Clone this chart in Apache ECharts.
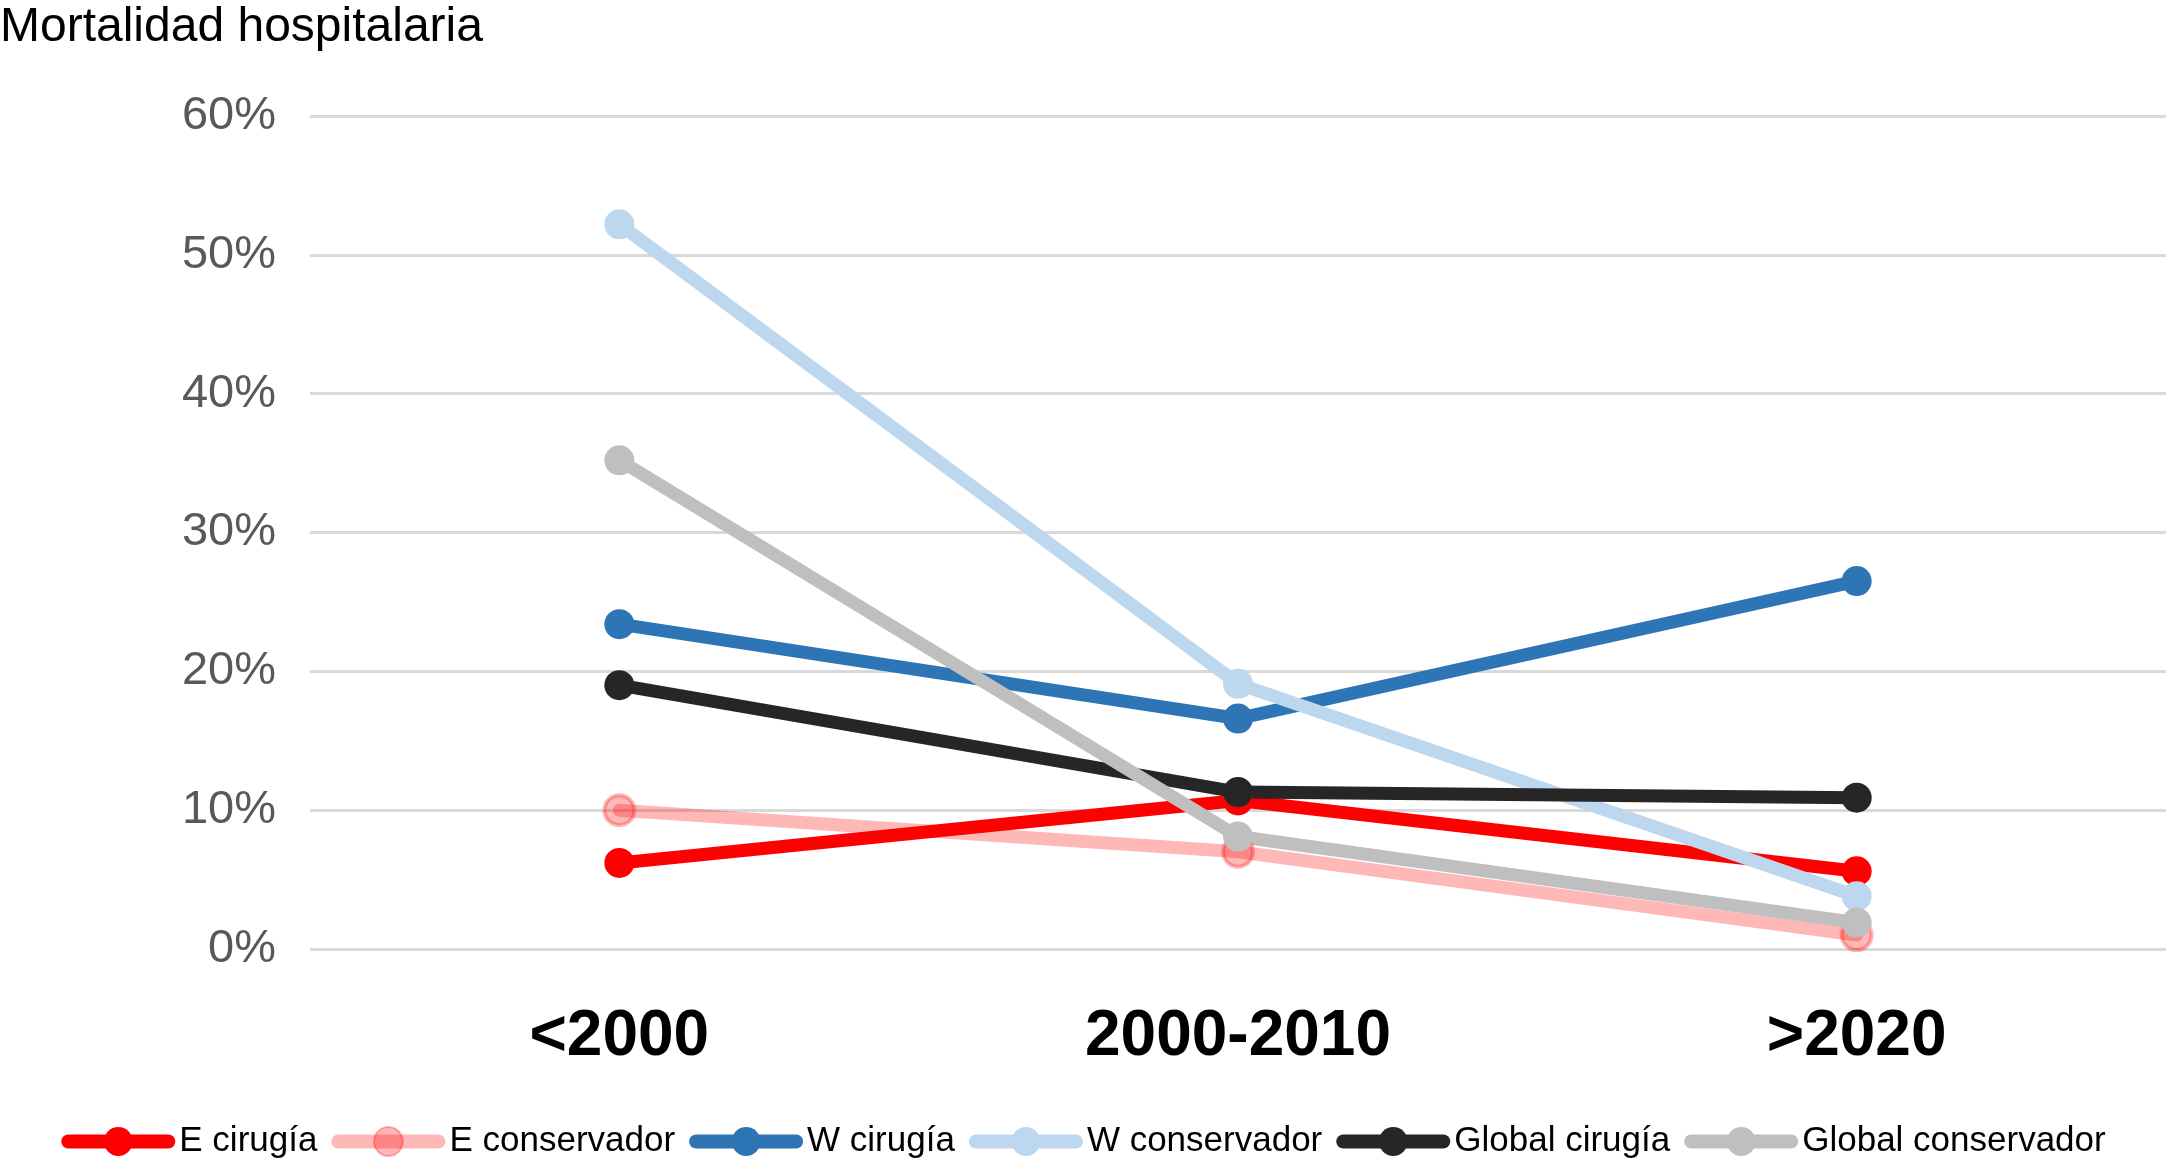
<!DOCTYPE html>
<html>
<head>
<meta charset="utf-8">
<script src="https://cdn.jsdelivr.net/npm/echarts@6/dist/echarts.min.js"></script>
<style>
html,body{margin:0;padding:0;background:#fff;}
#chart{width:2167px;height:1172px;}
</style>
</head>
<body>
<div id="chart"></div>
<script>
var categories = ['<2000', '2000-2010', '>2020'];
var eCirugia = [6.2, 10.7, 5.6];
var eConservador = [10.0, 7.0, 1.0];
var wCirugia = [23.4, 16.6, 26.5];
var wConservador = [52.2, 19.1, 3.8];
var globalCirugia = [19.0, 11.3, 10.9];
var globalConservador = [35.2, 8.1, 1.9];
var seriesNames = ['E cirugía', 'E conservador', 'W cirugía', 'W conservador', 'Global cirugía', 'Global conservador'];
var seriesColors = ['#FF0000', 'rgba(255,0,0,0.28)', '#2E75B6', '#BDD7EE', '#262626', '#BFBFBF'];
var seriesData = [eCirugia, eConservador, wCirugia, wConservador, globalCirugia, globalConservador];

var FONT = "'Liberation Sans', Arial, Helvetica, sans-serif";

var chart = echarts.init(document.getElementById('chart'));
var series = seriesData.map(function (d, i) {
  return {
    name: seriesNames[i],
    type: 'line',
    data: d,
    symbol: 'circle',
    symbolSize: 30,
    lineStyle: { width: 13, color: seriesColors[i], cap: 'round' },
    itemStyle: i === 1
      ? { color: seriesColors[i], borderColor: 'rgba(255,0,0,0.28)', borderWidth: 4 }
      : { color: seriesColors[i], borderWidth: 0 },
    emphasis: { disabled: true }
  };
});

chart.setOption({
  animation: false,
  backgroundColor: '#ffffff',
  title: {
    text: 'Mortalidad hospitalaria',
    left: 0,
    top: 4,
    padding: 0,
    textStyle: { fontFamily: FONT, fontSize: 48, fontWeight: 'normal', color: '#000000' }
  },
  grid: { left: 310, right: 1, top: 116, bottom: 223, containLabel: false },
  legend: {
    data: seriesNames,
    left: 'center',
    top: 1124,
    itemWidth: 100,
    itemHeight: 36,
    itemGap: 14,
    padding: 0,
    lineStyle: { width: 14, cap: 'round' },
    textStyle: { fontFamily: FONT, fontSize: 35, color: '#000000', padding: [0, 0, 0, 6] }
  },
  xAxis: {
    type: 'category',
    data: categories,
    boundaryGap: true,
    axisLine: { show: false },
    axisTick: { show: false },
    axisLabel: { fontFamily: FONT, fontSize: 64, fontWeight: 'bold', color: '#000000', margin: 56 }
  },
  yAxis: {
    type: 'value',
    min: 0,
    max: 60,
    interval: 10,
    axisLine: { show: false },
    axisTick: { show: false },
    splitLine: { lineStyle: { color: '#D9D9D9', width: 3 } },
    axisLabel: { formatter: '{value}%', fontFamily: FONT, fontSize: 47, color: '#595959', margin: 34 }
  },
  series: series
});
</script>
</body>
</html>
